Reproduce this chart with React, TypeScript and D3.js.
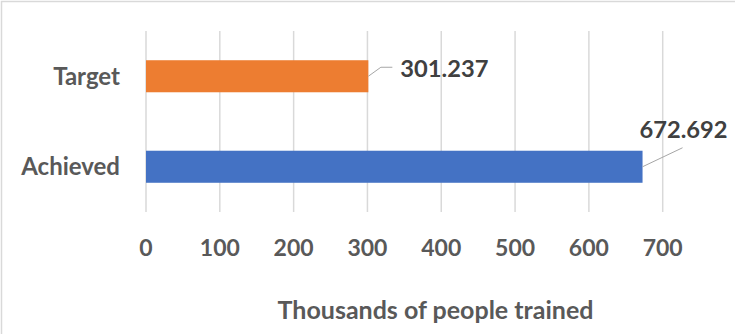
import React from "react";
import * as d3 from "d3";

const categories = ["Target", "Achieved"];
const values = [301.237, 672.692];
const barColors = ["#ED7D31", "#4472C4"];
const tickValues = [0, 100, 200, 300, 400, 500, 600, 700];
const axisTitle = "Thousands of people trained";

const W = 735;
const H = 334;
const FONT = "Lato, 'Open Sans', sans-serif";

export default function App() {
  const x = d3.scaleLinear().domain([0, 700]).range([146, 662.7]);
  const y = d3
    .scaleBand<string>()
    .domain(categories)
    .range([31, 212])
    .paddingInner(0.646)
    .paddingOuter(0.323);

  // label placement offsets (style)
  const labelLayout = [
    { dx: 12.5, dy: -9, hx: 24, tx: 32, ty: 1 },
    { dx: 40, dy: -19, hx: 40, tx: -3, ty: -29 },
  ];

  return (
    <svg
      width={W}
      height={H}
      style={{ position: "absolute", left: 0, top: 0, background: "#fff" }}
    >
      <rect x={0} y={0} width={W} height={H} fill="#fff" />
      <rect
        x={1.5}
        y={1.5}
        width={W + 20}
        height={H + 20}
        fill="none"
        stroke="#d9d9d9"
        strokeWidth={1.5}
      />
      {tickValues.map((t) => (
        <line
          key={"g" + t}
          x1={x(t)}
          x2={x(t)}
          y1={31}
          y2={212}
          stroke="#d9d9d9"
          strokeWidth={1.5}
        />
      ))}
      {categories.map((c, i) => (
        <rect
          key={"b" + c}
          x={x(0)}
          y={y(c)!}
          width={x(values[i]) - x(0)}
          height={y.bandwidth()}
          fill={barColors[i]}
        />
      ))}
      {categories.map((c) => (
        <text
          key={"c" + c}
          x={120}
          y={y(c)! + y.bandwidth() / 2 + 8.5}
          textAnchor="end"
          fontFamily={FONT}
          fontWeight={700}
          fontSize={24}
          fill="#595959"
        >
          {c}
        </text>
      ))}
      {categories.map((c, i) => {
        const L = labelLayout[i];
        const x0 = x(values[i]);
        const y0 = y(c)! + y.bandwidth() / 2;
        const pts: [number, number][] = [
          [x0, y0],
          [x0 + L.dx, y0 + L.dy],
        ];
        if (L.hx > L.dx) pts.push([x0 + L.hx, y0 + L.dy]);
        const line = d3.line();
        return (
          <g key={"l" + c}>
            <path
              d={line(pts)!}
              fill="none"
              stroke="#a6a6a6"
              strokeWidth={1}
            />
            <text
              x={x0 + L.tx}
              y={y0 + L.ty}
              fontFamily={FONT}
              fontWeight={700}
              fontSize={23.7}
              fill="#404040"
            >
              {values[i].toFixed(3)}
            </text>
          </g>
        );
      })}
      {tickValues.map((t) => (
        <text
          key={"t" + t}
          x={x(t)}
          y={255.5}
          textAnchor="middle"
          fontFamily={FONT}
          fontWeight={700}
          fontSize={23}
          fill="#595959"
        >
          {t}
        </text>
      ))}
      <text
        x={435.5}
        y={319}
        textAnchor="middle"
        fontFamily={FONT}
        fontWeight={700}
        fontSize={25}
        fill="#595959"
      >
        {axisTitle}
      </text>
    </svg>
  );
}
